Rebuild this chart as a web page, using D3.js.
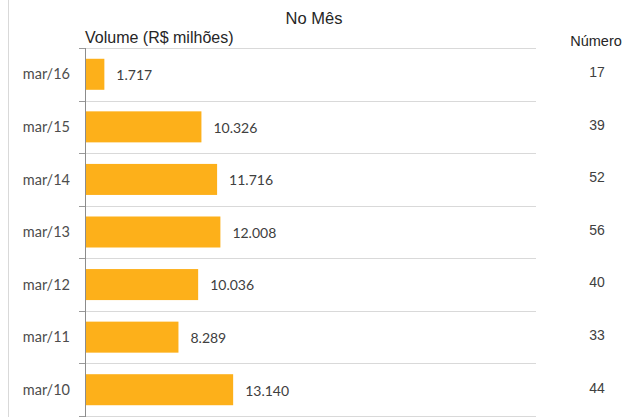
<!DOCTYPE html>
<html>
<head>
<meta charset="utf-8">
<script src="https://cdn.jsdelivr.net/npm/d3@7"></script>
<style>
  html, body { margin: 0; padding: 0; background: #fff; }
  svg { display: block; }
</style>
</head>
<body>
<svg id="chart" width="624" height="417"></svg>
<script>
const categories = ["mar/16", "mar/15", "mar/14", "mar/13", "mar/12", "mar/11", "mar/10"];
const volumes = [1.717, 10.326, 11.716, 12.008, 10.036, 8.289, 13.140];
const volumeLabels = ["1.717", "10.326", "11.716", "12.008", "10.036", "8.289", "13.140"];
const numbers = [17, 39, 52, 56, 40, 33, 44];
const xDomain = [0, 40];

const svg = d3.select("#chart");
const W = 624, H = 417;
const margin = { left: 85, right: 88, top: 48, bottom: 1 };

const x = d3.scaleLinear().domain(xDomain).range([margin.left, W - margin.right]);
const y = d3.scaleBand().domain(categories).range([margin.top, H - margin.bottom])
  .paddingInner(0.41).paddingOuter(0.205);

// outer left border line
svg.append("line").attr("x1", 8.5).attr("x2", 8.5).attr("y1", 0).attr("y2", H)
  .attr("stroke", "#d9d9d9").attr("stroke-width", 1);

// gridlines (row boundaries)
const step = y.step();
const bounds = d3.range(categories.length + 1).map(i => margin.top + i * step);
svg.append("g").selectAll("line").data(bounds).join("line")
  .attr("x1", margin.left - 6).attr("x2", x(xDomain[1]))
  .attr("y1", d => Math.round(d) + 0.5).attr("y2", d => Math.round(d) + 0.5)
  .attr("stroke", "#d9d9d9").attr("stroke-width", 1);
svg.append("g").selectAll("line").data(bounds).join("line")
  .attr("x1", margin.left - 6).attr("x2", margin.left)
  .attr("y1", d => Math.round(d) + 0.5).attr("y2", d => Math.round(d) + 0.5)
  .attr("stroke", "#9a9a9a").attr("stroke-width", 1);

// bars
svg.append("g").selectAll("rect").data(categories).join("rect")
  .attr("x", x(0))
  .attr("y", d => y(d))
  .attr("width", (d, i) => x(volumes[i]) - x(0))
  .attr("height", y.bandwidth())
  .attr("fill", "#FDB01A");

// axis line
svg.append("line").attr("x1", margin.left + 0.5).attr("x2", margin.left + 0.5)
  .attr("y1", margin.top).attr("y2", H)
  .attr("stroke", "#8c8c8c").attr("stroke-width", 1);

// category labels
svg.append("g").selectAll("text").data(categories).join("text")
  .attr("x", 70)
  .attr("y", d => y(d) + y.bandwidth() / 2)
  .attr("dy", "0.35em")
  .attr("text-anchor", "end")
  .attr("font-family", "Lato, 'Liberation Sans', sans-serif")
  .attr("font-size", 14.5)
  .attr("fill", "#4d4d4d")
  .text(d => d);

// value labels
svg.append("g").selectAll("text").data(categories).join("text")
  .attr("x", (d, i) => x(volumes[i]) + 12)
  .attr("y", d => y(d) + y.bandwidth() / 2 + 1)
  .attr("dy", "0.35em")
  .attr("font-family", "Lato, 'Liberation Sans', sans-serif")
  .attr("font-size", 14)
  .attr("fill", "#404040")
  .text((d, i) => volumeLabels[i]);

// number column
svg.append("g").selectAll("text").data(categories).join("text")
  .attr("x", 597)
  .attr("y", d => y(d) + y.bandwidth() / 2 - 2)
  .attr("dy", "0.35em")
  .attr("text-anchor", "middle")
  .attr("font-family", "'Liberation Sans', Arial, sans-serif")
  .attr("font-size", 14)
  .attr("fill", "#404040")
  .text((d, i) => numbers[i]);

// titles
svg.append("text").attr("x", 314).attr("y", 24)
  .attr("text-anchor", "middle")
  .attr("font-family", "'Liberation Sans', Arial, sans-serif")
  .attr("font-size", 16.5).attr("fill", "#262626").text("No Mês");
svg.append("text").attr("x", 85).attr("y", 43)
  .attr("font-family", "'Liberation Sans', Arial, sans-serif")
  .attr("font-size", 16).attr("fill", "#262626").text("Volume (R$ milhões)");
svg.append("text").attr("x", 596).attr("y", 46)
  .attr("text-anchor", "middle")
  .attr("font-family", "'Liberation Sans', Arial, sans-serif")
  .attr("font-size", 14.5).attr("fill", "#262626").text("Número");
</script>
</body>
</html>
